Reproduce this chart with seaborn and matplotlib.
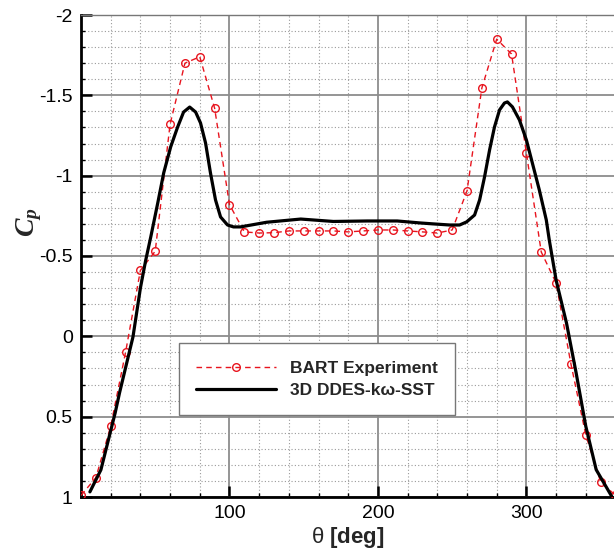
import numpy as np
import pandas as pd
import matplotlib
matplotlib.use("Agg")
import matplotlib.pyplot as plt
import seaborn as sns
from matplotlib.ticker import MultipleLocator, FixedLocator

# ---------------- data ----------------
exp_theta = [0, 10, 20, 30, 40, 50, 60, 70, 80, 90, 100, 110, 120, 130, 140, 150,
             160, 170, 180, 190, 200, 210, 220, 230, 240, 250, 260, 270, 280, 290,
             300, 310, 320, 330, 340, 350, 360]
exp_cp = [0.99, 0.88, 0.56, 0.10, -0.41, -0.53, -1.32, -1.70, -1.74, -1.42, -0.82,
          -0.65, -0.643, -0.645, -0.656, -0.656, -0.656, -0.656, -0.65, -0.656, -0.662,
          -0.662, -0.656, -0.65, -0.643, -0.662, -0.905, -1.546, -1.85, -1.757,
          -1.14, -0.525, -0.332, 0.172, 0.614, 0.906, 0.99]

cfd_theta = [6, 13.4, 23, 26, 35, 40, 43.5, 47, 51.7, 55.7, 60.4, 65.1, 69.1, 73.2,
             77.2, 80.5, 83.9, 87.2, 90.6, 94, 98.7, 102.7, 107.4, 125, 148, 170, 193,
             213, 228, 237, 248.3, 255, 259.7, 265.1, 268.5, 271.8, 275.2, 278.5,
             281.9, 285.2, 287.2, 290.6, 295.3, 300, 304, 308.7, 313.4, 315.4, 320,
             327, 333.5, 340, 347, 357.7]
cfd_cp = [0.968, 0.831, 0.477, 0.35, 0.004, -0.30, -0.47, -0.619, -0.830, -1.017,
          -1.179, -1.303, -1.396, -1.427, -1.396, -1.328, -1.203, -1.017, -0.849,
          -0.743, -0.693, -0.681, -0.681, -0.71, -0.73, -0.715, -0.718, -0.718, -0.706,
          -0.70, -0.693, -0.693, -0.712, -0.755, -0.849, -0.992, -1.160, -1.303,
          -1.409, -1.452, -1.459, -1.428, -1.347, -1.222, -1.079, -0.911, -0.724,
          -0.600, -0.35, -0.083, 0.228, 0.56, 0.83, 1.0]

x_ticks = [100, 200, 300]
x_tick_labels = ["100", "200", "300"]
y_ticks = [-2, -1.5, -1, -0.5, 0, 0.5, 1]
y_tick_labels = ["-2", "-1.5", "-1", "-0.5", "0", "0.5", "1"]
label_exp = "BART Experiment"
label_cfd = "3D DDES-k\u03c9-SST"

# ---------------- style ----------------
sns.set_style("white")
plt.rcParams["font.family"] = ["Liberation Sans", "DejaVu Sans"]
plt.rcParams["mathtext.fontset"] = "custom"
plt.rcParams["mathtext.it"] = "Liberation Serif:italic:bold"
plt.rcParams["mathtext.rm"] = "Liberation Serif:bold"
plt.rcParams["mathtext.bf"] = "Liberation Sans:bold"

fig = plt.figure(figsize=(6.14, 5.56), dpi=100)
ax = fig.add_axes([81 / 614, 1 - 497 / 556, 1 - 81 / 614, (497 - 15) / 556])

df_exp = pd.DataFrame({"theta": exp_theta, "cp": exp_cp})
df_cfd = pd.DataFrame({"theta": cfd_theta, "cp": cfd_cp})

sns.lineplot(data=df_exp, x="theta", y="cp", ax=ax, color="#e8141e",
             linestyle=(0, (4, 3)), linewidth=1.0, marker="o", markersize=5.5,
             markerfacecolor="none", markeredgecolor="#e8141e", markeredgewidth=1.0,
             sort=False, estimator=None, label=label_exp, zorder=4)
sns.lineplot(data=df_cfd, x="theta", y="cp", ax=ax, color="black",
             linewidth=2.3, sort=False, estimator=None, label=label_cfd, zorder=5)

ax.set_xlim(0, 359)
ax.set_ylim(1, -2)

ax.xaxis.set_major_locator(FixedLocator(x_ticks))
ax.set_xticklabels(x_tick_labels)
ax.xaxis.set_minor_locator(MultipleLocator(20))
ax.yaxis.set_major_locator(FixedLocator(y_ticks))
ax.set_yticklabels(y_tick_labels)
ax.yaxis.set_minor_locator(MultipleLocator(0.1))

ax.grid(which="major", color="#8c8c8c", linewidth=1.3, linestyle="-", zorder=0)
ax.grid(which="minor", color="#9a9a9a", linewidth=0.8, linestyle=(0, (1, 2)), zorder=0)
ax.set_axisbelow(True)

ax.tick_params(which="major", direction="in", length=8, width=1.8, labelsize=14,
               colors="black", pad=6)
ax.tick_params(which="minor", direction="in", length=3, width=1.0, colors="black")
ax.tick_params(axis="x", which="both", top=False, bottom=True)
ax.tick_params(axis="y", which="both", left=True, right=False)

for s in ["left", "bottom"]:
    ax.spines[s].set_linewidth(2.0)
    ax.spines[s].set_color("black")
ax.spines["top"].set_color("#777777")
ax.spines["top"].set_linewidth(1.0)
ax.spines["right"].set_visible(False)

ax.set_xlabel("\u03b8 $\\mathbf{[deg]}$", fontsize=16)
ax.xaxis.set_label_coords(0.5, -0.058)
ax.set_ylabel(r"$C_p$", fontsize=20)
ax.yaxis.set_label_coords(-0.07, 0.57)

leg = ax.legend(loc="center", bbox_to_anchor=(0.443, 0.244), frameon=True,
                fancybox=False, edgecolor="#777777", framealpha=1, numpoints=1,
                handlelength=4.6, handletextpad=0.8, borderpad=1.0,
                labelspacing=0.4, prop={"weight": "bold", "size": 12.5})
leg.get_frame().set_linewidth(1.0)

fig.savefig("out.png", dpi=100)
